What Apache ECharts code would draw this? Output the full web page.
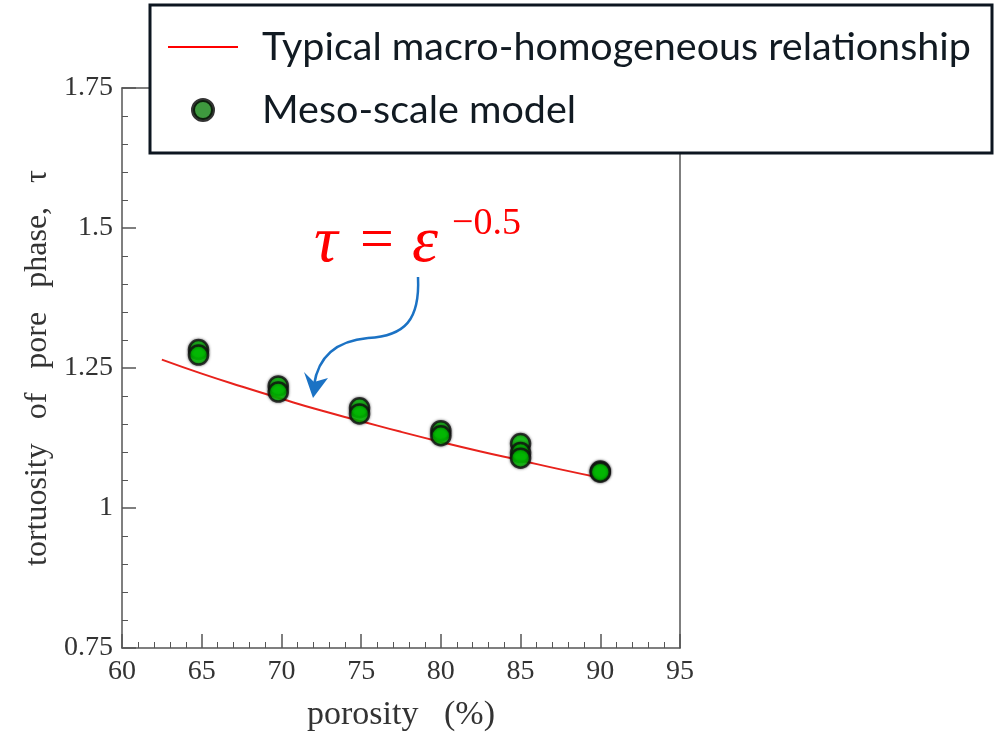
<!DOCTYPE html>
<html>
<head>
<meta charset="utf-8">
<script src="https://cdn.jsdelivr.net/npm/echarts@6/dist/echarts.min.js"></script>
<style>
  html, body { margin: 0; padding: 0; background: #fff; }
  #chart { width: 999px; height: 755px; }
</style>
</head>
<body>
<div id="chart"></div>
<script>
// red curve (tau = eps^-0.5)
const curvePorosity = [62.5, 65, 67.5, 70, 72.5, 75, 77.5, 80, 82.5, 85, 87.5, 90]
const curveTau = [1.265, 1.240, 1.217, 1.195, 1.174, 1.155, 1.136, 1.118, 1.101, 1.085, 1.069, 1.054]

// green points (meso-scale model)
const meshPorosity = [64.8, 64.8, 69.8, 69.8, 74.9, 74.9, 80, 80, 85, 85, 85, 90, 90]
const meshTau = [1.283, 1.273, 1.218, 1.207, 1.179, 1.168, 1.138, 1.129, 1.115, 1.099, 1.089, 1.066, 1.064]

const xTicks = [60, 65, 70, 75, 80, 85, 90, 95]
const yTicks = [0.75, 1, 1.25, 1.5, 1.75]

const NAME_LINE = 'Typical macro-homogeneous relationship'
const NAME_PTS = 'Meso-scale model'
const AXIS = '#555'
const SERIF = '"Liberation Serif", "DejaVu Serif", serif'
const LEG_TEXT = { padding: [0, 0, 0, 19], fontSize: 39.5, fontFamily: 'Lato, sans-serif', color: '#111a22' }

const chart = echarts.init(document.getElementById('chart'), null, { renderer: 'canvas' })

chart.setOption({
  animation: false,
  grid: { left: 122, right: 319, top: 88, bottom: 107 },
  xAxis: [{
    type: 'value', min: xTicks[0], max: xTicks[xTicks.length - 1], interval: 5,
    name: 'porosity   (%)', nameLocation: 'middle', nameGap: 50,
    nameTextStyle: { fontFamily: SERIF, fontSize: 34, color: '#333' },
    axisLine: { lineStyle: { color: AXIS, width: 1.5 } },
    axisTick: { inside: true, length: 14, lineStyle: { color: AXIS, width: 1.5 } },
    minorTick: { show: true, splitNumber: 5, length: 6, lineStyle: { color: AXIS } },
    axisLabel: { fontFamily: SERIF, fontSize: 28, color: '#333', margin: 10 },
    splitLine: { show: false },
  }, {
    type: 'value', position: 'top', min: xTicks[0], max: xTicks[xTicks.length - 1],
    axisLine: { show: true, lineStyle: { color: AXIS, width: 1.5 } },
    axisTick: { show: false }, axisLabel: { show: false }, splitLine: { show: false },
  }],
  yAxis: [{
    type: 'value', min: yTicks[0], max: yTicks[yTicks.length - 1], interval: 0.25,
    name: 'tortuosity   of   pore   phase,   τ', nameLocation: 'middle', nameGap: 68,
    nameTextStyle: { fontFamily: SERIF, fontSize: 32, color: '#333' },
    axisLine: { show: true, lineStyle: { color: AXIS, width: 1.5 } },
    axisTick: { inside: true, length: 14, lineStyle: { color: AXIS, width: 1.5 } },
    minorTick: { show: true, splitNumber: 5, length: 6, lineStyle: { color: AXIS } },
    axisLabel: { fontFamily: SERIF, fontSize: 28, color: '#333', margin: 9 },
    splitLine: { show: false },
  }, {
    type: 'value', position: 'right', min: yTicks[0], max: yTicks[yTicks.length - 1],
    axisLine: { show: true, lineStyle: { color: AXIS, width: 1.5 } },
    axisTick: { show: false }, axisLabel: { show: false }, splitLine: { show: false },
  }],
  legend: {
    orient: 'vertical', left: 168, top: 25, padding: 0, itemGap: 19, z: 200,
    itemWidth: 70, itemHeight: 20,
    textStyle: { fontFamily: 'Lato, "Open Sans", sans-serif', fontSize: 39.5, color: '#111a22', lineHeight: 44 },
    formatter: (n) => '{t|' + n + '}',
    data: [
      { name: NAME_LINE, icon: 'path://M0,9H70V11H0Z',
        itemStyle: { color: '#ff0000', borderWidth: 0 },
        textStyle: { rich: { t: LEG_TEXT } } },
      { name: NAME_PTS, icon: 'circle',
        itemStyle: { color: '#0e7f0e', borderColor: '#000', borderWidth: 4, shadowBlur: 0 },
        textStyle: { rich: { t: LEG_TEXT } } },
    ],
  },
  graphic: [
    { type: 'rect', z: 100, shape: { x: 150, y: 5, width: 842, height: 148 },
      style: { fill: '#fff', stroke: '#0d1620', lineWidth: 3 } },
    { type: 'text', z: 100, style: { text: 'τ', x: 314, y: 244, verticalAlign: 'middle',
      font: 'italic 66px "Liberation Serif", serif', fill: '#ff0000' } },
    { type: 'text', z: 100, style: { text: '=', x: 360, y: 242, verticalAlign: 'middle',
      font: '60px "Liberation Serif", serif', fill: '#ff0000' } },
    { type: 'text', z: 100, style: { text: 'ε', x: 412, y: 244, verticalAlign: 'middle',
      font: 'italic 66px "Liberation Serif", serif', fill: '#ff0000' } },
    { type: 'text', z: 100, style: { text: '−0.5', x: 452, y: 224, verticalAlign: 'middle',
      font: '38px "Liberation Serif", serif', fill: '#ff0000' } },
    { type: 'bezierCurve', z: 100,
      shape: { x1: 418, y1: 277, cpx1: 420, cpy1: 320, cpx2: 405, cpy2: 336, x2: 368, y2: 338 },
      style: { stroke: '#1b72c4', lineWidth: 2.5, fill: null } },
    { type: 'bezierCurve', z: 100,
      shape: { x1: 368, y1: 338, cpx1: 335, cpy1: 341, cpx2: 318, cpy2: 358, x2: 314, y2: 385 },
      style: { stroke: '#1b72c4', lineWidth: 2.5, fill: null } },
    { type: 'polygon', z: 100,
      shape: { points: [[313, 398], [304, 372], [314, 382], [328, 378]] },
      style: { fill: '#1b72c4' } },
  ],
  series: [
    {
      name: NAME_LINE, type: 'line', xAxisIndex: 0, yAxisIndex: 0, smooth: true,
      symbol: 'none', lineStyle: { color: '#e8221c', width: 2 }, itemStyle: { color: '#ff0000' },
      data: curvePorosity.map((x, i) => [x, curveTau[i]]), z: 2,
    },
    {
      name: NAME_PTS, type: 'scatter', xAxisIndex: 0, yAxisIndex: 0, symbolSize: 19,
      itemStyle: { color: '#00cc00', borderColor: '#111', borderWidth: 2.5,
        shadowBlur: 3, shadowColor: 'rgba(0,0,0,0.6)' },
      data: meshPorosity.map((x, i) => [x, meshTau[i]]), z: 3,
    },
  ],
})
</script>
</body>
</html>
